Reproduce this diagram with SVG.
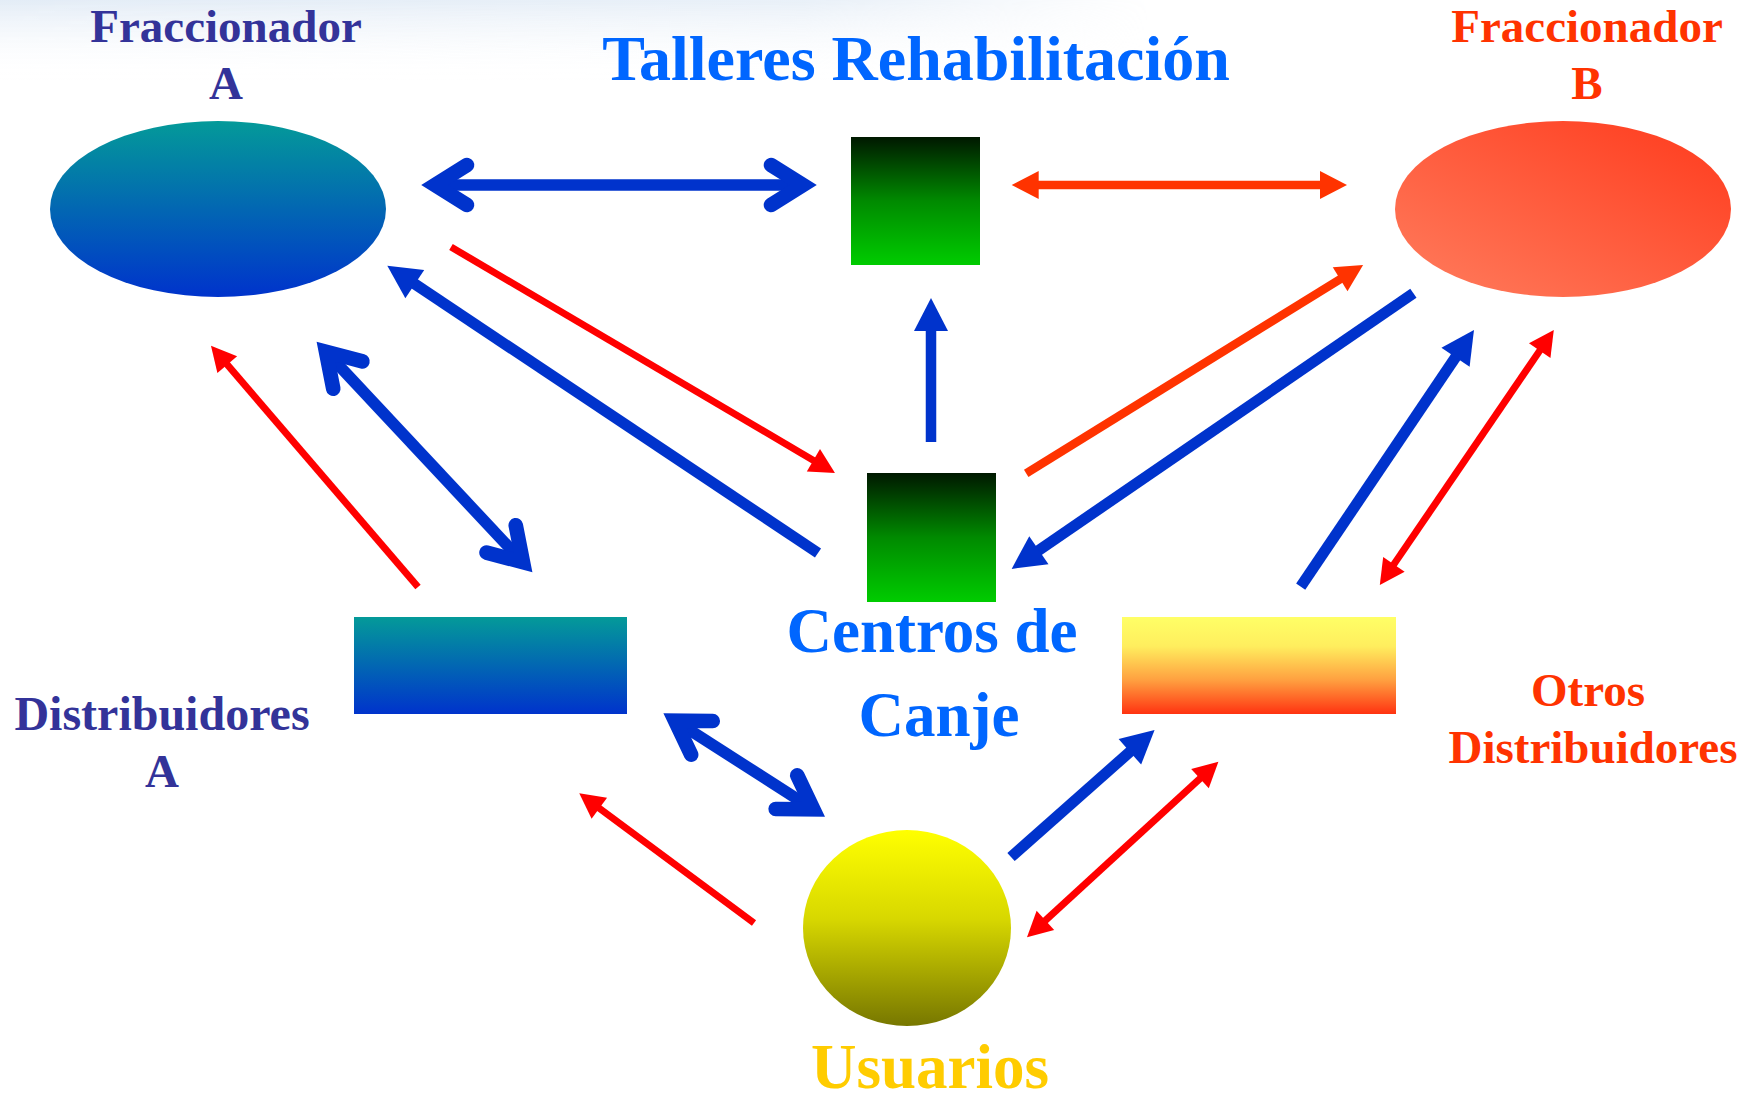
<svg xmlns="http://www.w3.org/2000/svg" width="1756" height="1093" viewBox="0 0 1756 1093">
  <style>
    text { font-family: "Liberation Serif", "Times New Roman", serif; font-weight: bold; text-anchor: middle; }
    .lbl { font-size: 47px; }
    .big { font-size: 64px; }
    .navy { fill: #333399; }
    .orng { fill: #ff3300; }
    .sky { fill: #0066ff; }
    .gold { fill: #ffcc00; }
    .cb { fill: none; stroke: #0033cc; stroke-width: 11.5; }
    .sb { fill: none; stroke: #0033cc; stroke-width: 11; marker-end: url(#triBlue); }
    .sr { fill: none; stroke: #ff0000; stroke-width: 7; }
    .so { fill: none; stroke: #ff3300; stroke-width: 8.5; }
  </style>
  <defs>
    <linearGradient id="gBlue" x1="0" y1="0" x2="0" y2="1">
      <stop offset="0" stop-color="#049a99"/>
      <stop offset="1" stop-color="#0033cc"/>
    </linearGradient>
    <linearGradient id="gGreen" x1="0" y1="0" x2="0" y2="1">
      <stop offset="0" stop-color="#001800"/>
      <stop offset="0.5" stop-color="#008a00"/>
      <stop offset="1" stop-color="#00cc00"/>
    </linearGradient>
    <linearGradient id="gRed" x1="0" y1="1" x2="1" y2="0">
      <stop offset="0" stop-color="#ff7d5e"/>
      <stop offset="1" stop-color="#ff3a1c"/>
    </linearGradient>
    <linearGradient id="gOrange" x1="0" y1="0" x2="0" y2="1">
      <stop offset="0" stop-color="#ffff66"/>
      <stop offset="0.3" stop-color="#ffee5e"/>
      <stop offset="0.65" stop-color="#ffa040"/>
      <stop offset="1" stop-color="#ff3311"/>
    </linearGradient>
    <linearGradient id="gYellow" x1="0" y1="0" x2="0" y2="1">
      <stop offset="0" stop-color="#ffff00"/>
      <stop offset="0.45" stop-color="#d8d800"/>
      <stop offset="1" stop-color="#777700"/>
    </linearGradient>
    <linearGradient id="gSky" x1="0" y1="0" x2="0" y2="1">
      <stop offset="0" stop-color="#e3ecf6"/>
      <stop offset="1" stop-color="#ffffff" stop-opacity="0"/>
    </linearGradient>
    <linearGradient id="gSkyMask" x1="0" y1="0" x2="1" y2="0">
      <stop offset="0" stop-color="#fff" stop-opacity="1"/>
      <stop offset="0.7" stop-color="#fff" stop-opacity="0.8"/>
      <stop offset="1" stop-color="#fff" stop-opacity="0"/>
    </linearGradient>
    <mask id="skyMask">
      <rect x="0" y="0" width="1150" height="80" fill="url(#gSkyMask)"/>
    </mask>
    <marker id="triBlue" markerUnits="userSpaceOnUse" orient="auto" refX="0" refY="0" markerWidth="60" markerHeight="60" overflow="visible">
      <path d="M18,0 L-15,-17 L-15,17 Z" fill="#0033cc"/>
    </marker>
    <marker id="triRed" markerUnits="userSpaceOnUse" orient="auto-start-reverse" refX="0" refY="0" markerWidth="50" markerHeight="50" overflow="visible">
      <path d="M14,0 L-11,-13 L-11,13 Z" fill="#ff0000"/>
    </marker>
    <marker id="triOrange" markerUnits="userSpaceOnUse" orient="auto-start-reverse" refX="0" refY="0" markerWidth="50" markerHeight="50" overflow="visible">
      <path d="M14,0 L-13,-14 L-13,14 Z" fill="#ff3300"/>
    </marker>
    <marker id="chevBlue" markerUnits="userSpaceOnUse" orient="auto-start-reverse" refX="0" refY="0" markerWidth="80" markerHeight="80" overflow="visible">
      <path d="M-32,-20 L0,0 L-32,20" fill="none" stroke="#0033cc" stroke-width="14.6" stroke-linecap="round" stroke-linejoin="miter" stroke-miterlimit="6"/>
    </marker>
  </defs>

  <rect x="0" y="0" width="1756" height="1093" fill="#ffffff"/>
  <rect x="0" y="0" width="1150" height="80" fill="url(#gSky)" mask="url(#skyMask)"/>

  <g id="connectors">
    <!-- Fraccionador A <-> Talleres -->
    <path class="cb" d="M435,185 L803,185" marker-start="url(#chevBlue)" marker-end="url(#chevBlue)"/>
    <!-- Talleres <-> Fraccionador B -->
    <path class="so" d="M1025.7,185 L1333,185" marker-start="url(#triOrange)" marker-end="url(#triOrange)"/>
    <!-- Fraccionador A -> Centros -->
    <path class="sr" d="M451,247 L822.9,465.9" marker-end="url(#triRed)"/>
    <!-- Centros -> Fraccionador A -->
    <path class="sb" d="M818,553 L402.3,275.7"/>
    <!-- Centros -> Talleres -->
    <path class="sb" d="M931,442 L931,316" style="stroke-width:10.5"/>
    <!-- Centros -> Fraccionador B -->
    <path class="so" d="M1026.2,473.3 L1351.2,272.4" marker-end="url(#triOrange)"/>
    <!-- Fraccionador B -> Centros -->
    <path class="sb" d="M1413.4,293.3 L1026.5,558.7"/>
    <!-- Otros -> Fraccionador B -->
    <path class="sb" d="M1300.7,586.7 L1463.9,344.9"/>
    <!-- Fraccionador B <-> Otros -->
    <path class="sr" d="M1387.7,573.4 L1545.9,341.6" marker-start="url(#triRed)" marker-end="url(#triRed)"/>
    <!-- Distribuidores A -> Fraccionador A -->
    <path class="sr" d="M418,587 L220.1,356.3" marker-end="url(#triRed)"/>
    <!-- Fraccionador A <-> Distribuidores A -->
    <path class="cb" d="M326,351.7 L523,562.3" marker-start="url(#chevBlue)" marker-end="url(#chevBlue)"/>
    <!-- Distribuidores A <-> Usuarios -->
    <path class="cb" d="M675,720.6 L813.4,809.4" marker-start="url(#chevBlue)" marker-end="url(#chevBlue)"/>
    <!-- Usuarios -> Distribuidores A -->
    <path class="sr" d="M754,923 L590.5,801.7" marker-end="url(#triRed)"/>
    <!-- Usuarios -> Otros -->
    <path class="sb" d="M1011,857 L1141.1,741.9"/>
    <!-- Usuarios <-> Otros -->
    <path class="sr" d="M1037.3,927.8 L1208.1,771.2" marker-start="url(#triRed)" marker-end="url(#triRed)"/>
  </g>

  <g id="fraccionador-a">
    <ellipse cx="218" cy="209" rx="168" ry="88" fill="url(#gBlue)"/>
    <text class="lbl navy" x="226" y="42">Fraccionador</text>
    <text class="lbl navy" x="226" y="99">A</text>
  </g>

  <g id="talleres">
    <rect x="851" y="137" width="129" height="128" fill="url(#gGreen)"/>
    <text class="big sky" x="916" y="80">Talleres Rehabilitación</text>
  </g>

  <g id="fraccionador-b">
    <ellipse cx="1563" cy="209" rx="168" ry="88" fill="url(#gRed)"/>
    <text class="lbl orng" x="1587" y="42">Fraccionador</text>
    <text class="lbl orng" x="1587" y="99">B</text>
  </g>

  <g id="centros-de-canje">
    <rect x="867" y="473" width="129" height="129" fill="url(#gGreen)"/>
    <text class="sky" style="font-size:63px" x="932" y="652">Centros de</text>
    <text class="sky" style="font-size:63px" x="939" y="736">Canje</text>
  </g>

  <g id="distribuidores-a">
    <rect x="354" y="617" width="273" height="97" fill="url(#gBlue)"/>
    <text class="navy" style="font-size:48px" x="162" y="730">Distribuidores</text>
    <text class="lbl navy" x="162" y="787">A</text>
  </g>

  <g id="otros-distribuidores">
    <rect x="1122" y="617" width="274" height="97" fill="url(#gOrange)"/>
    <text class="lbl orng" x="1588" y="706">Otros</text>
    <text class="lbl orng" x="1593" y="763">Distribuidores</text>
  </g>

  <g id="usuarios">
    <ellipse cx="907" cy="928" rx="104" ry="98" fill="url(#gYellow)"/>
    <text class="gold" style="font-size:63px" x="930" y="1088">Usuarios</text>
  </g>
</svg>
